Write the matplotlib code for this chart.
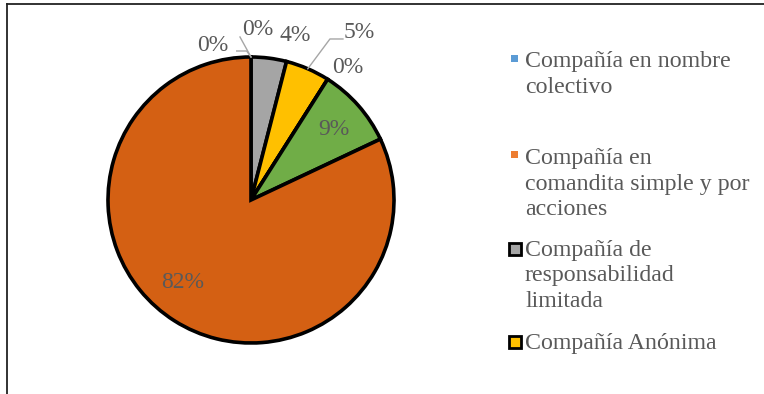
import matplotlib.pyplot as plt
from matplotlib.patches import Rectangle
from matplotlib.lines import Line2D
import numpy as np

# Datos del grafico (porcentajes por tipo de compañía)
categorias = ["Compañía en nombre colectivo",
              "Compañía en comandita simple y por acciones",
              "Compañía de responsabilidad limitada",
              "Compañía Anónima",
              "Compañía de economía mixta",
              "Sucursal extranjera",
              "Sociedad por acciones simplificada"]
valores = [0, 0, 4, 5, 0, 9, 82]
etiquetas = ["0%", "0%", "4%", "5%", "0%", "9%", "82%"]
colores = ["#5B9BD5", "#ED7D31", "#A5A5A5", "#FFC000", "#4472C4", "#70AD47", "#D46013"]

# textos de la leyenda (solo se ven 4 entradas)
textos_leyenda = ["Compañía en nombre\ncolectivo",
                  "Compañía en\ncomandita simple y por\nacciones",
                  "Compañía de\nresponsabilidad\nlimitada",
                  "Compañía Anónima"]

gris_texto = "#595959"
fuente = "Liberation Serif"

W, H = 764, 394
fig = plt.figure(figsize=(W / 100, H / 100), dpi=100)

# ejes del pastel: centro (251,200) px, radio 143 px
cx, cy, r = 251, 200, 143
ax = fig.add_axes([(cx - r) / W, (H - cy - r) / H, 2 * r / W, 2 * r / H])
wedges, _ = ax.pie(valores, colors=colores, startangle=90, counterclock=False,
                   radius=1, wedgeprops=dict(edgecolor="black", linewidth=2.6))
ax.set_xlim(-1, 1)
ax.set_ylim(-1, 1)
ax.axis("off")

# posiciones de las etiquetas (en unidades del radio)
pos_etiquetas = [(-0.27, 1.08), (0.05, 1.19), (0.31, 1.15), (0.76, 1.17),
                 (0.68, 0.93), (0.58, 0.49), (-0.48, -0.58)]
for w, txt, (px, py) in zip(wedges, etiquetas, pos_etiquetas):
    ax.text(px, py, txt, ha="center", va="center", fontsize=17,
            color=gris_texto, family=fuente)

# lineas guia
def punto_borde(w):
    ang = np.deg2rad((w.theta1 + w.theta2) / 2)
    return np.cos(ang), np.sin(ang)

guias = {0: [(-0.10, 1.042), (-0.03, 1.042)],
         1: [(-0.077, 1.14)],
         3: [(0.643, 1.126), (0.552, 1.126)]}
for i, pts in guias.items():
    bx, by = punto_borde(wedges[i])
    xs = [p[0] for p in pts] + [bx]
    ys = [p[1] for p in pts] + [by]
    ax.plot(xs, ys, color="#A6A6A6", lw=1, clip_on=False)

# leyenda dibujada a mano
y_leyenda = [74.5, 184, 276, 343]
for i, (txt, yc) in enumerate(zip(textos_leyenda, y_leyenda)):
    fig.text(525 / W, 1 - yc / H, txt, ha="left", va="center", fontsize=17.2,
             color=gris_texto, family=fuente, linespacing=1.27)
for i in range(2):
    y0 = [59, 155][i]
    fig.add_artist(Rectangle((511 / W, 1 - (y0 + 3) / H), 7 / W, 7 / H,
                             transform=fig.transFigure, facecolor=colores[i],
                             edgecolor="none"))
for i, yc in zip([2, 3], [249, 342]):
    fig.add_artist(Rectangle((508.5 / W, 1 - (yc + 6) / H), 12 / W, 12 / H,
                             transform=fig.transFigure, facecolor=colores[i],
                             edgecolor="black", linewidth=2))

# marco del grafico (solo borde superior e izquierdo visibles)
fig.add_artist(Line2D([7 / W, 1], [1 - 4 / H, 1 - 4 / H], transform=fig.transFigure,
                      color="#222222", lw=1.3))
fig.add_artist(Line2D([7 / W, 7 / W], [0, 1 - 4 / H], transform=fig.transFigure,
                      color="#222222", lw=1.3))

fig.savefig("out.png", dpi=100)
